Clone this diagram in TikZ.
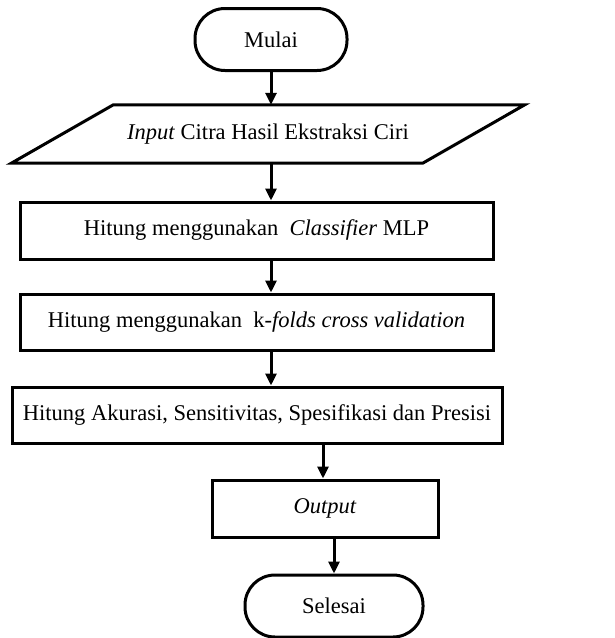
\documentclass[tikz,border=0pt]{standalone}
\usepackage{fontspec}
\setmainfont{Liberation Serif}
\usetikzlibrary{arrows.meta}
\usetikzlibrary{calc}
\def\slant{51pt}
\def\lw{3pt}

\begin{document}
\begin{tikzpicture}[
    x=1pt, y=-1pt,
    font=\fontsize{22.5}{26}\selectfont,
    arrowtip/.style={
      line width=\lw,
      -{Triangle[width=11pt,length=12pt]}
    },
    terminal/.style={
      draw, line width=\lw, rounded corners=30pt,
      minimum height=62pt, inner sep=0pt
    },
    process/.style={
      draw, line width=\lw,
      minimum height=57pt, inner sep=0pt
    }
  ]
    \useasboundingbox (0,0) rectangle (615,638);

    \node[terminal, minimum width=152pt] (Mulai) at (271,39.5) {Mulai};

    \node[minimum width=411pt, minimum height=58pt, inner sep=0pt] (Input) at (268,134)
      { \textit{Input} Citra Hasil Ekstraksi Ciri };
    \draw[line width=\lw, line join=miter]
      ($(Input.north west)+(\slant,0)$) -- ($(Input.north east)+(\slant,0)$)
      -- ($(Input.south east)-(\slant,0)$) -- ($(Input.south west)-(\slant,0)$) -- cycle;

    \node[process, minimum width=473pt] (Classifier) at (256.5,230.5)
      { Hitung menggunakan \ \textit{Classifier} MLP };
    \node[process, minimum width=473pt, minimum height=56pt] (Kfold) at (256.5,322)
      { Hitung menggunakan \ k-\textit{folds cross validation} };
    \node[process, minimum width=490pt, minimum height=56pt] (Akurasi) at (257,415)
      { Hitung Akurasi, Sensitivitas, Spesifikasi dan Presisi };
    \node[process, minimum width=226pt] (Output) at (325,508.5) { \textit{Output} };

    \node[terminal, minimum width=178pt] (Selesai) at (334,606) {Selesai};

    \draw[arrowtip] (Mulai) -- (Mulai |- Input.north);
    \draw[arrowtip] (Mulai |- Input.south) -- (Mulai |- Classifier.north);
    \draw[arrowtip] (Mulai |- Classifier.south) -- (Mulai |- Kfold.north);
    \draw[arrowtip] (Mulai |- Kfold.south) -- (Mulai |- Akurasi.north);
    \draw[arrowtip] ($(Output.north |- Akurasi.south)-(2,0)$) -- ($(Output.north)-(2,0)$);
    \draw[arrowtip] (Selesai |- Output.south) -- (Selesai);
  \end{tikzpicture}
\end{document}
